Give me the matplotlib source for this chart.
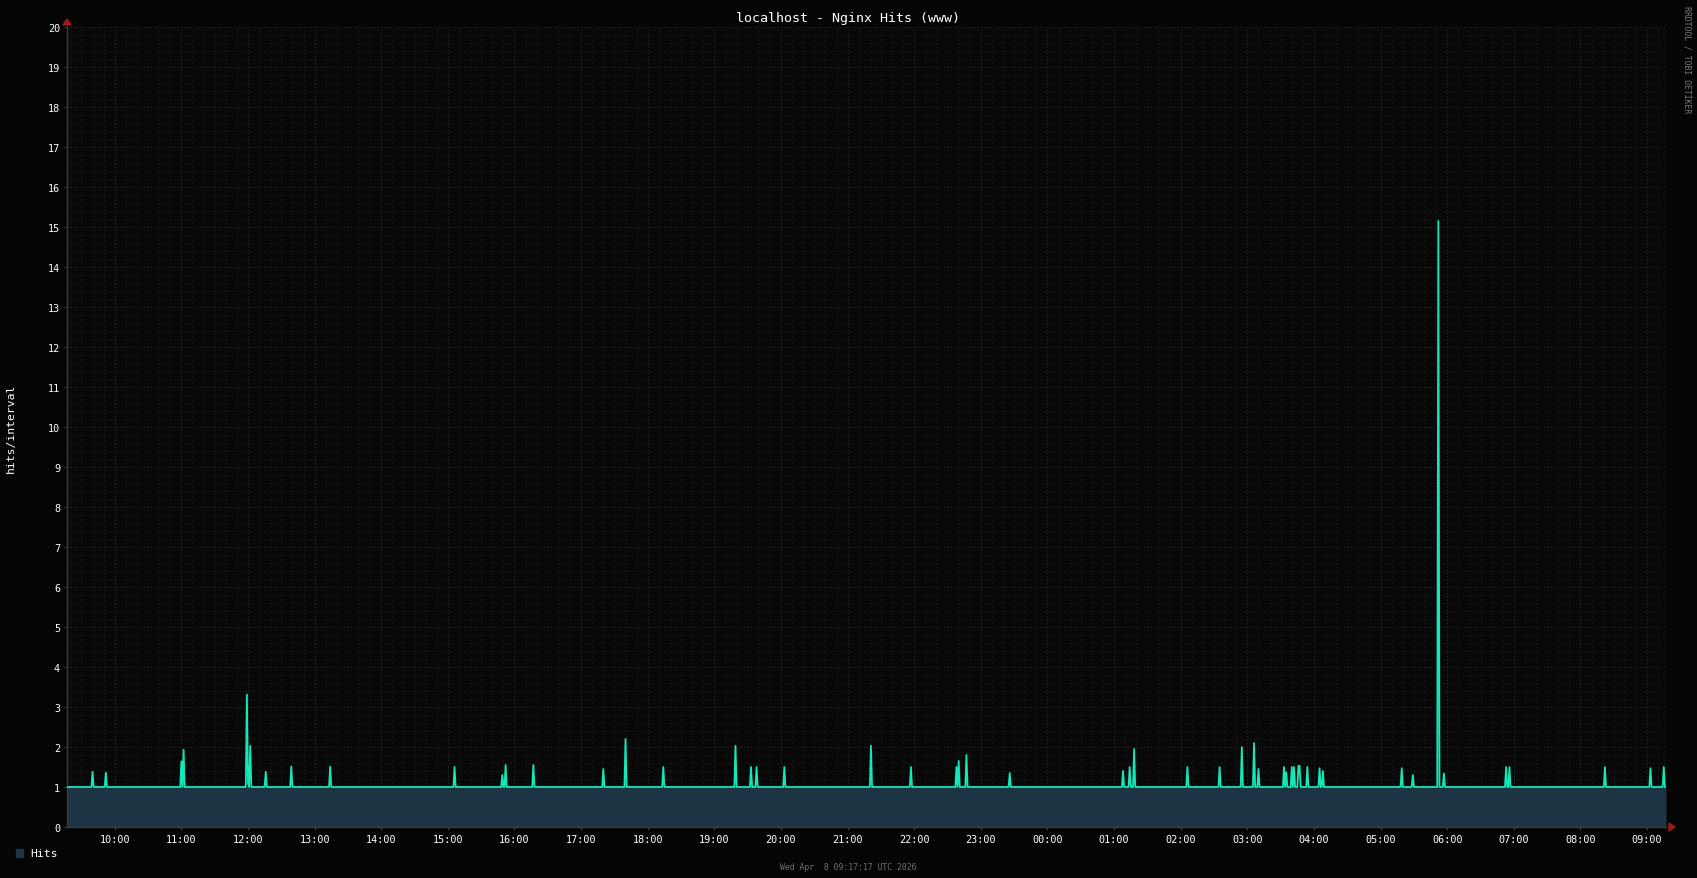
import matplotlib
matplotlib.use("Agg")
import matplotlib.pyplot as plt
import matplotlib.dates as mdates
import numpy as np
from datetime import datetime, timedelta

# Window shown by the graph
start = datetime(2026, 4, 7, 9, 17)
end = datetime(2026, 4, 8, 9, 17)
step_min = 1

# Spikes above the steady 1 hit/interval baseline (clock time, value)
spike_times = ["09:40", "09:52", "11:00", "11:02", "11:59", "12:00", "12:02", "12:16",
               "12:39", "13:14", "15:06", "15:49", "15:52", "16:17", "17:20", "17:40",
               "18:14", "19:19", "19:33", "19:38", "20:03", "21:21", "21:57", "22:38",
               "22:40", "22:47", "23:26", "01:08", "01:14", "01:18", "02:06", "02:35",
               "02:55", "03:06", "03:10", "03:33", "03:35", "03:40", "03:42", "03:46",
               "03:47", "03:54", "04:05", "04:08", "05:19", "05:29", "05:52", "05:57",
               "06:53", "06:56", "08:22", "09:03", "09:15"]
spike_values = [1.38, 1.36, 1.64, 1.93, 3.31, 1.1, 2.03, 1.38,
                1.51, 1.51, 1.5, 1.3, 1.55, 1.55, 1.45, 2.2,
                1.5, 2.03, 1.5, 1.5, 1.5, 2.03, 1.5, 1.5,
                1.65, 1.8, 1.35, 1.4, 1.5, 1.95, 1.5, 1.5,
                2.0, 2.1, 1.45, 1.5, 1.37, 1.5, 1.5, 1.53,
                1.53, 1.5, 1.47, 1.4, 1.47, 1.3, 15.15, 1.34,
                1.5, 1.5, 1.5, 1.47, 1.5]
baseline = 1.0

title = "localhost - Nginx Hits (www)"
ylabel = "hits/interval"
legend_label = "Hits"
stamp = "Wed Apr  8 09:17:17 UTC 2026"
credit = "RRDTOOL / TOBI OETIKER"

n = int((end - start).total_seconds() // (60 * step_min)) + 1
times = [start + timedelta(minutes=i * step_min) for i in range(n)]
hits = np.full(n, baseline)
for s, v in zip(spike_times, spike_values):
    hh, mm = map(int, s.split(":"))
    t = start.replace(hour=hh, minute=mm)
    if t < start:
        t += timedelta(days=1)
    idx = int((t - start).total_seconds() // (60 * step_min))
    hits[idx] = max(hits[idx], v)

plt.rcParams['font.family'] = ['DejaVu Sans Mono']

W, H = 1697, 879
fig = plt.figure(figsize=(W / 100, H / 100), dpi=100)
fig.patch.set_facecolor('#050505')

x0, x1, y0, y1 = 67, 1666, 28, 828
ax = fig.add_axes([x0 / W, 1 - y1 / H, (x1 - x0) / W, (y1 - y0) / H])
ax.set_facecolor('#080808')

area_col = '#1d3444'
line_col = '#12e8b8'
ax.fill_between(times, 0, np.minimum(hits, baseline), color=area_col, lw=0, zorder=2)
ax.plot(times, hits, color=line_col, lw=1.3, zorder=3)

ax.set_xlim(start, end)
ax.set_ylim(0, 20)

# grid
ax.xaxis.set_major_locator(mdates.HourLocator())
ax.xaxis.set_major_formatter(mdates.DateFormatter('%H:%M'))
ax.xaxis.set_minor_locator(mdates.MinuteLocator(byminute=range(0, 60, 10)))
ax.yaxis.set_major_locator(plt.MultipleLocator(1))
ax.yaxis.set_minor_locator(plt.MultipleLocator(0.2))
ax.grid(which='minor', color='#1e1e1e', ls=(0, (1, 2)), lw=0.8, zorder=1)
ax.grid(which='major', color='#2e2e2e', ls=(0, (1, 2)), lw=0.8, zorder=1)
ax.set_axisbelow(True)

ax.tick_params(axis='both', which='both', colors='#444444', labelcolor='white',
               labelsize=7.3, length=2, width=0.8)
ax.tick_params(axis='y', which='minor', length=0)
ax.tick_params(axis='x', which='minor', length=0)
ax.tick_params(axis='x', pad=3)
ax.tick_params(axis='y', pad=3)

for sp in ['top', 'right']:
    ax.spines[sp].set_visible(False)
for sp in ['left', 'bottom']:
    ax.spines[sp].set_color('#3c3c3c')
    ax.spines[sp].set_linewidth(1)

# axis arrows
fig.patches.append(plt.Polygon([[(x0 - 4) / W, 1 - 26 / H], [(x0 + 4) / W, 1 - 26 / H],
                                [x0 / W, 1 - 20 / H]], closed=True,
                               color='#a01818', transform=fig.transFigure))
fig.patches.append(plt.Polygon([[1669 / W, 1 - 824 / H], [1669 / W, 1 - 832 / H],
                                [1675 / W, 1 - 828 / H]], closed=True,
                               color='#a01818', transform=fig.transFigure))

fig.text(848 / W, 1 - 18.5 / H, title, color='white', fontsize=9.6,
         ha='center', va='center')
fig.text(11 / W, 1 - 428 / H, ylabel, color='white', fontsize=8.2,
         rotation=90, ha='center', va='center')
fig.text(1687 / W, 1 - 60 / H, credit, color='#7a7a7a', fontsize=5.9,
         rotation=-90, ha='center', va='center')
fig.text(848 / W, 1 - 868 / H, stamp, color='#707070', fontsize=5.9,
         ha='center', va='center')

fig.patches.append(plt.Rectangle((16 / W, 1 - 858 / H), 7 / W, 8 / H,
                                 color=area_col, transform=fig.transFigure))
fig.text(30 / W, 1 - 854 / H, legend_label, color='white', fontsize=8.2,
         ha='left', va='center')

fig.savefig('out.png', dpi=100, facecolor=fig.get_facecolor())
